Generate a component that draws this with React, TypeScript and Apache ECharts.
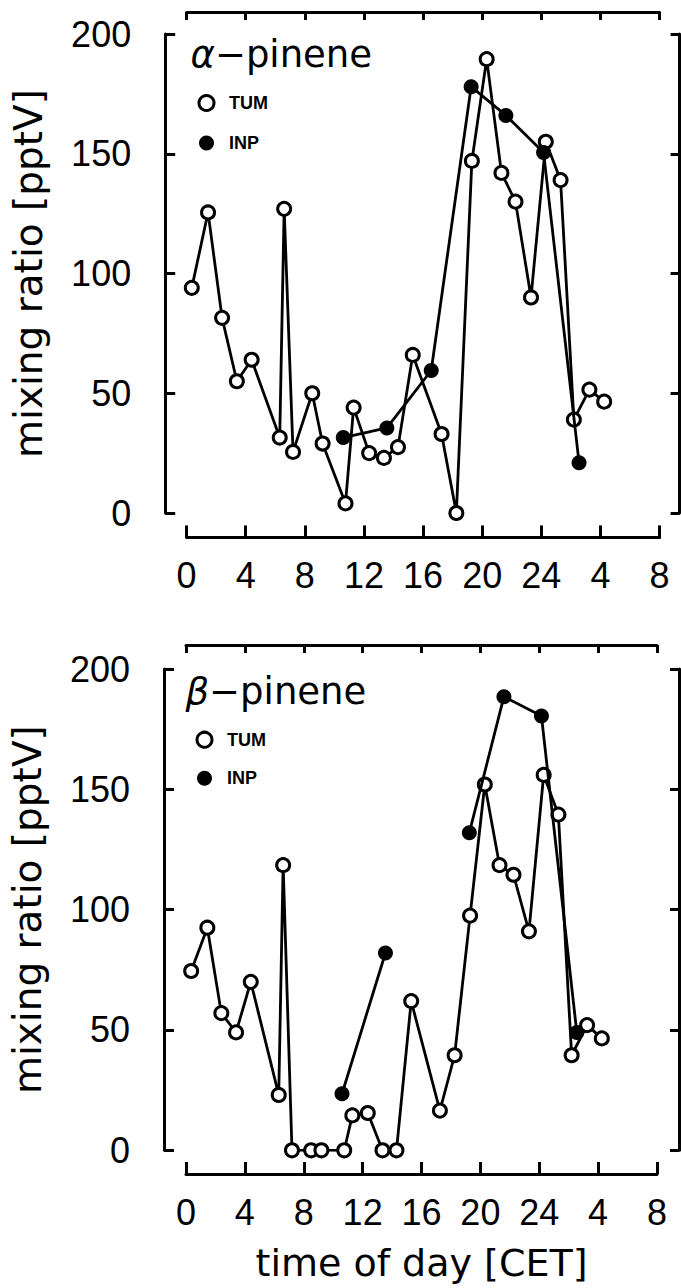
import React, { useEffect, useRef } from "react";
import * as echarts from "echarts";

// sample times (hours, CET; values above 24 are the next morning)
const tumHours = [0.35, 1.45, 2.4, 3.4, 4.4, 6.3, 6.6, 7.2, 8.5, 9.2, 10.75, 11.3, 12.35, 13.35, 14.3, 15.3, 17.25, 18.25, 19.3, 20.3, 21.3, 22.25, 23.3, 24.3, 25.3, 26.2, 27.25, 28.25];
const alphaTum = [94, 125.5, 81.5, 55, 64, 31.5, 127, 25.5, 50, 29, 4, 44, 25, 23, 27.5, 66, 33, 0, 147, 189.5, 142, 130, 90, 155, 139, 39, 51.5, 46.5];
const betaTum = [74.5, 92.5, 57, 49, 70, 23, 118.5, 0, 0, 0, 0, 14.5, 15.5, 0, 0, 62, 16.5, 39.5, 97.5, 152, 118.5, 114.5, 91, 156, 139.5, 39.5, 52, 46.5];
const inpHours = [10.6, 13.55, 16.55, 19.25, 21.6, 24.15, 26.55];
const alphaInp = [31.5, 35.5, 59.5, 178, 166, 150.5, 21];
const betaInp = [23.5, 82, null, 132, 188.5, 180.5, 49];
const xTickLabels = ["0", "4", "8", "12", "16", "20", "24", "4", "8"];

const pairs = (hs: number[], vs: (number | null)[]) =>
  hs.map((h, i) => [h, vs[i] === null ? "-" : vs[i]]);

const WORD_FONT = "DejaVu Sans";
const NUM_FONT = "Liberation Sans";

const panels = [
  {
    compound: "α",
    tum: alphaTum,
    inp: alphaInp,
    grid: { left: 186.6, right: 21.4, top: 34, bottom: 775 },
    off: { yl: 21.4, yr: 20, xb: 24.4, xt: 22 },
    titlePos: { left: 190.5, top: 36 },
    legendPos: { left: 197.5, top: 94, gap: 22 },
    xName: "",
  },
  {
    compound: "β",
    tum: betaTum,
    inp: betaInp,
    grid: { left: 183.9, right: 24, top: 669, bottom: 137.7 },
    off: { yl: 22, yr: 22, xb: 23.7, xt: 24 },
    titlePos: { left: 185.5, top: 673 },
    legendPos: { left: 195.5, top: 730.7, gap: 20.6 },
    xName: "time of day [CET]",
  },
];

export default function App() {
  const ref = useRef<HTMLDivElement>(null);
  useEffect(() => {
    if (!ref.current) return;
    const chart = echarts.init(ref.current, null, { renderer: "svg" });
    const axisLine = { show: true, onZero: false, lineStyle: { color: "#000", width: 3 } };
    const tickStyle = { color: "#000", width: 3 };

    const grid: any[] = [];
    const xAxis: any[] = [];
    const yAxis: any[] = [];
    const series: any[] = [];
    const title: any[] = [];
    const legend: any[] = [];

    panels.forEach((p, gi) => {
      grid.push({ ...p.grid, containLabel: false });
      xAxis.push({
        type: "value",
        gridIndex: gi,
        position: "bottom",
        offset: p.off.xb,
        min: 0,
        max: 32,
        interval: 4,
        axisLine,
        axisTick: { show: true, inside: true, length: 12, lineStyle: tickStyle },
        axisLabel: {
          margin: 20,
          color: "#000",
          fontFamily: NUM_FONT,
          fontSize: 36,
          formatter: (v: number) => xTickLabels[Math.round(v / 4)] ?? "",
        },
        splitLine: { show: false },
        name: p.xName,
        nameLocation: "middle",
        nameGap: 70,
        nameTextStyle: { color: "#000", fontFamily: WORD_FONT, fontSize: 38 },
      });
      xAxis.push({
        type: "value",
        gridIndex: gi,
        position: "top",
        offset: p.off.xt,
        min: 0,
        max: 32,
        interval: 4,
        axisLine,
        axisTick: { show: true, inside: true, length: 8, lineStyle: tickStyle },
        axisLabel: { show: false },
        splitLine: { show: false },
      });
      yAxis.push({
        type: "value",
        gridIndex: gi,
        position: "left",
        offset: p.off.yl,
        min: 0,
        max: 200,
        interval: 50,
        axisLine,
        axisTick: { show: true, inside: true, length: 10, lineStyle: tickStyle },
        axisLabel: { margin: 34, color: "#000", fontFamily: NUM_FONT, fontSize: 36 },
        splitLine: { show: false },
        name: "mixing ratio [pptV]",
        nameLocation: "middle",
        nameRotate: 90,
        nameGap: 117,
        nameTextStyle: { color: "#000", fontFamily: WORD_FONT, fontSize: 39 },
      });
      yAxis.push({
        type: "value",
        gridIndex: gi,
        position: "right",
        offset: p.off.yr,
        min: 0,
        max: 200,
        interval: 50,
        axisLine,
        axisTick: { show: true, inside: true, length: 9, lineStyle: tickStyle },
        axisLabel: { show: false },
        splitLine: { show: false },
      });
      series.push({
        name: "TUM",
        type: "line",
        xAxisIndex: gi * 2,
        yAxisIndex: gi * 2,
        data: pairs(tumHours, p.tum),
        symbol: "circle",
        symbolSize: 13,
        showAllSymbol: true,
        lineStyle: { color: "#000", width: 2.8 },
        itemStyle: { color: "#fff", borderColor: "#000", borderWidth: 3 },
        z: 3,
      });
      series.push({
        name: "INP",
        type: "line",
        xAxisIndex: gi * 2,
        yAxisIndex: gi * 2,
        data: pairs(inpHours, p.inp),
        connectNulls: false,
        symbol: "circle",
        symbolSize: 15,
        showAllSymbol: true,
        lineStyle: { color: "#000", width: 2.8 },
        itemStyle: { color: "#000", borderColor: "#000", borderWidth: 0 },
        z: 4,
      });
      title.push({
        text: `{g|${p.compound}}−pinene`,
        left: p.titlePos.left,
        top: p.titlePos.top,
        padding: 0,
        textStyle: {
          color: "#000",
          fontFamily: WORD_FONT,
          fontSize: 37,
          fontWeight: "normal",
          rich: {
            g: { fontStyle: "italic", fontFamily: WORD_FONT, fontSize: 37, color: "#000" },
          },
        },
      });
      legend.push({
        orient: "vertical",
        left: p.legendPos.left,
        top: p.legendPos.top,
        padding: 0,
        itemWidth: 15,
        itemHeight: 15,
        itemGap: p.legendPos.gap,
        selectedMode: false,
        formatter: "{t|{name}}",
        textStyle: {
          color: "#000",
          fontFamily: NUM_FONT,
          fontWeight: "bold",
          fontSize: 18,
          rich: {
            t: { padding: [0, 0, 0, 10], fontFamily: NUM_FONT, fontWeight: "bold", fontSize: 18, color: "#000" },
          },
        },
        data: [
          { name: "TUM", icon: "circle", itemStyle: { color: "#fff", borderColor: "#000", borderWidth: 3 } },
          { name: "INP", icon: "circle", itemStyle: { color: "#000", borderWidth: 0 } },
        ],
      });
    });

    chart.setOption({
      animation: false,
      backgroundColor: "#fff",
      grid,
      xAxis,
      yAxis,
      series,
      title,
      legend,
    });
    return () => chart.dispose();
  }, []);
  return (
    <div
      ref={ref}
      style={{ position: "absolute", left: 0, top: 0, width: 681, height: 1288 }}
    />
  );
}
